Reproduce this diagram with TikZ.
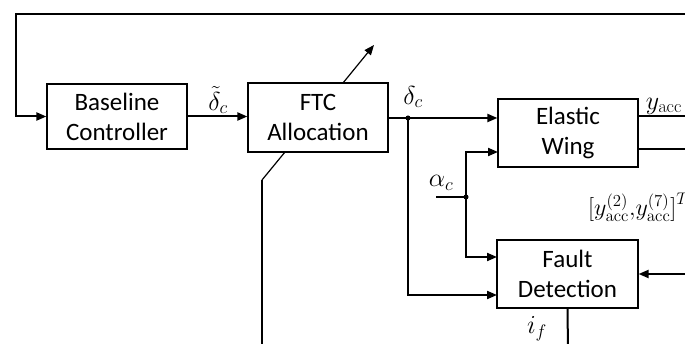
\RequirePackage{fix-cm}
\documentclass[tikz,border=0pt]{standalone}
\usepackage[no-math]{fontspec}
\setmainfont{Carlito}
\usetikzlibrary{arrows.meta}
\begin{document}
\begin{tikzpicture}[x=1pt,y=-1pt,
  blk/.style={draw, line width=1.2pt, minimum width=140pt, align=center,
    font=\fontsize{25}{30}\selectfont, inner sep=0pt},
  conn/.style={line width=2pt},
  arr/.style={conn, -{Triangle[length=10pt,width=8pt]}},
  thinarr/.style={line width=1.2pt, -{Triangle[length=10pt,width=8pt]}},
  thin/.style={line width=1.2pt},
  lbl/.style={font=\fontsize{26}{31}\selectfont, inner sep=0pt},
  dot/.style={fill, circle, inner sep=0pt, minimum size=5pt}]
\useasboundingbox (0,0) rectangle (685,344);
\clip (0,0) rectangle (685,344);

% blocks
\node[blk, minimum height=65pt] (bc) at (117,116.5) {Baseline\\Controller};
\node[blk, minimum height=69pt] (ftc) at (318,117.5) {FTC\\Allocation};
\node[blk, minimum height=68pt] (ew) at (568,133) {Elastic\\Wing};
\node[blk, minimum height=68pt, minimum width=141pt] (fd) at (567.5,274) {Fault\\Detection};

% coordinates
\coordinate (fbR) at (695,14);
\coordinate (fbL) at (16,14);
\coordinate (j1) at (408,118);
\coordinate (aL) at (436,197);
\coordinate (j2) at (466,197);
\coordinate (ewin2) at (498,152);
\coordinate (fdin1) at (497,257);
\coordinate (fdin2) at (497,295);
\coordinate (out1) at (695,116);
\coordinate (out2) at (695,149);
\coordinate (fdR) at (695,274);
\coordinate (ifB) at (568,350);
\coordinate (d1a) at (343,83);
\coordinate (d1b) at (374,45);
\coordinate (d2a) at (285,152);
\coordinate (d2b) at (262,180);
\coordinate (d2c) at (262,350);

% feedback
\draw[arr] (fbR) -- (fbL) |- (bc.west);
% baseline -> FTC
\draw[arr] (bc.east) -- (bc.east -| ftc.west);
% FTC -> wing
\draw[arr] (ftc.east |- j1) -- (j1 -| ew.west);
\node[dot] (j1d) at (j1) {};
\draw[arr] (j1) |- (fdin2);
% alpha
\draw[conn] (aL) -- (j2);
\node[dot] (j2d) at (j2) {};
\draw[arr] (j2) |- (ewin2);
\draw[arr] (j2) |- (fdin1);
% outputs
\draw[conn] (ew.east |- out1) -- (out1);
\draw[conn] (ew.east |- out2) -- (out2);
\draw[arr] (fdR) -- (fd.east);
\draw[conn] (fd.south) -- (ifB);
% diagonals
\draw[thinarr] (d1a) -- (d1b);
\draw[thin] (d2a) -- (d2b);
\draw[conn] (d2b) -- (d2c);

% labels
\node[lbl] (ldt) at (218,100) {$\tilde{\delta}_c$};
\node[lbl] (ld) at (413,97) {$\delta_c$};
\node[lbl] (la) at (441,183) {$\alpha_c$};
\node[lbl] (ly) at (664,106) {$y_{\mathrm{acc}}$};
\node[lbl, font=\fontsize{24}{29}\selectfont, anchor=west] (lv) at (588,207) {$\bigl[y^{(2)}_{\mathrm{acc}},\!y^{(7)}_{\mathrm{acc}}\bigr]^T$};
\node[lbl] (lif) at (537,329) {$i_f$};
\end{tikzpicture}
\end{document}
